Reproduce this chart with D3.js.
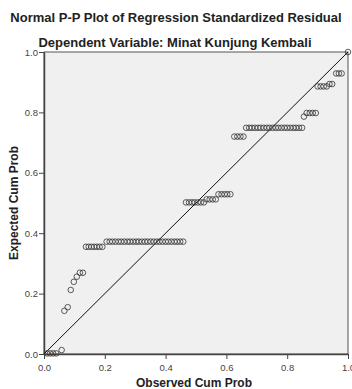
<!DOCTYPE html>
<html>
<head>
<meta charset="utf-8">
<script src="https://cdn.jsdelivr.net/npm/d3@7"></script>
<style>
  body { margin: 0; background: #fff; }
  svg { display: block; font-family: "Liberation Sans", Arial, sans-serif; }
</style>
</head>
<body>
<div id="chart"></div>
<script>
// values
const title = "Normal P-P Plot of Regression Standardized Residual"
const subtitle = "Dependent Variable: Minat Kunjung Kembali"
const xaxislabel = "Observed Cum Prob"
const yaxislabel = "Expected Cum Prob"
const ticks = [0, 0.2, 0.4, 0.6, 0.8, 1.0]

const observed = [
  0.010, 0.020, 0.030, 0.040, 0.058, 0.067, 0.078, 0.088, 0.098, 0.108, 0.118, 0.128,
  0.138, 0.147, 0.156, 0.165, 0.174, 0.183, 0.192,
  0.206, 0.216, 0.225, 0.235, 0.245, 0.254, 0.264, 0.274, 0.283, 0.293, 0.303, 0.312, 0.322, 0.332,
  0.341, 0.351, 0.361, 0.371, 0.380, 0.390, 0.400, 0.409, 0.419, 0.429, 0.438, 0.448, 0.458,
  0.467, 0.477, 0.487, 0.496, 0.506, 0.516, 0.526,
  0.535, 0.545, 0.555, 0.565,
  0.574, 0.584, 0.594, 0.603, 0.613,
  0.626, 0.636, 0.646, 0.656,
  0.665, 0.675, 0.684, 0.694, 0.704, 0.713, 0.723, 0.733, 0.742, 0.752,
  0.762, 0.771, 0.781, 0.791, 0.800, 0.810, 0.820, 0.829, 0.839, 0.849,
  0.855, 0.864, 0.874, 0.884, 0.894,
  0.900, 0.910, 0.920, 0.930, 0.939, 0.948,
  0.961, 0.970, 0.979, 1.000
]

const expected = [
  0.002, 0.002, 0.002, 0.002, 0.013, 0.143, 0.155, 0.212, 0.239, 0.256, 0.269, 0.269,
  0.355, 0.355, 0.355, 0.355, 0.355, 0.355, 0.355,
  0.372, 0.372, 0.372, 0.372, 0.372, 0.372, 0.372, 0.372, 0.372, 0.372, 0.372, 0.372, 0.372, 0.372,
  0.372, 0.372, 0.372, 0.372, 0.372, 0.372, 0.372, 0.372, 0.372, 0.372, 0.372, 0.372, 0.372,
  0.502, 0.502, 0.502, 0.502, 0.502, 0.502, 0.502,
  0.512, 0.512, 0.512, 0.512,
  0.529, 0.529, 0.529, 0.529, 0.529,
  0.720, 0.720, 0.720, 0.720,
  0.749, 0.749, 0.749, 0.749, 0.749, 0.749, 0.749, 0.749, 0.749, 0.749,
  0.749, 0.749, 0.749, 0.749, 0.749, 0.749, 0.749, 0.749, 0.749, 0.749,
  0.786, 0.798, 0.798, 0.798, 0.798,
  0.886, 0.886, 0.886, 0.886, 0.894, 0.894,
  0.929, 0.929, 0.929, 1.000
]

const width = 352
const height = 389
const margin = {top: 52, right: 4, bottom: 35, left: 44}

const svg = d3.select("#chart").append("svg")
    .attr("width", width)
    .attr("height", height)

const x = d3.scaleLinear()
    .domain([0, 1])
    .range([margin.left, width - margin.right])

const y = d3.scaleLinear()
    .domain([0, 1])
    .range([height - margin.bottom, margin.top])

// plot background
svg.append("rect")
    .attr("x", x(0))
    .attr("y", y(1))
    .attr("width", x(1) - x(0))
    .attr("height", y(0) - y(1))
    .attr("fill", "#f0f0f0")
    .attr("stroke", "#555")
    .attr("stroke-width", 1)

svg.append("g")
    .attr("transform", `translate(0,${y(0)})`)
    .call(d3.axisBottom(x).tickValues(ticks).tickFormat(d3.format(".1f")).tickSize(5).tickSizeOuter(0))
    .call(g => g.select(".domain").attr("stroke", "#444").attr("stroke-width", 1.5))
    .call(g => g.selectAll(".tick line").attr("stroke", "#444"))
    .call(g => g.selectAll(".tick text")
        .attr("font-family", "Liberation Sans, Arial, sans-serif")
        .attr("font-size", 9.5)
        .attr("fill", "#444")
        .attr("dy", "0.9em"))

svg.append("g")
    .attr("transform", `translate(${x(0)},0)`)
    .call(d3.axisLeft(y).tickValues(ticks).tickFormat(d3.format(".1f")).tickSize(5).tickSizeOuter(0))
    .call(g => g.select(".domain").attr("stroke", "#444").attr("stroke-width", 1.5))
    .call(g => g.selectAll(".tick line").attr("stroke", "#444"))
    .call(g => g.selectAll(".tick text")
        .attr("font-family", "Liberation Sans, Arial, sans-serif")
        .attr("font-size", 9.5)
        .attr("fill", "#444")
        .attr("x", -6))

// reference line
svg.append("line")
    .attr("x1", x(0))
    .attr("y1", y(0))
    .attr("x2", x(1))
    .attr("y2", y(1))
    .attr("stroke", "#111")
    .attr("stroke-width", 1)

const points = observed.map((o, i) => ({x: o, y: expected[i]}))

svg.append("g")
    .attr("fill", "none")
    .attr("stroke", "#333")
    .attr("stroke-width", 0.8)
  .selectAll("circle")
  .data(points)
  .join("circle")
    .attr("cx", d => x(d.x))
    .attr("cy", d => y(d.y))
    .attr("r", 2.8)

svg.append("text")
    .attr("x", 176)
    .attr("y", 21.5)
    .attr("text-anchor", "middle")
    .attr("font-size", 13)
    .attr("font-weight", "bold")
    .attr("fill", "#222")
    .text(title)

svg.append("text")
    .attr("x", 175)
    .attr("y", 46.5)
    .attr("text-anchor", "middle")
    .attr("font-size", 13)
    .attr("font-weight", "bold")
    .attr("fill", "#222")
    .text(subtitle)

svg.append("text")
    .attr("x", 194)
    .attr("y", 387)
    .attr("text-anchor", "middle")
    .attr("font-size", 12)
    .attr("font-weight", "bold")
    .attr("fill", "#222")
    .text(xaxislabel)

svg.append("text")
    .attr("transform", `translate(18,${(y(0) + y(1)) / 2}) rotate(-90)`)
    .attr("text-anchor", "middle")
    .attr("font-size", 12)
    .attr("font-weight", "bold")
    .attr("fill", "#222")
    .text(yaxislabel)
</script>
</body>
</html>
